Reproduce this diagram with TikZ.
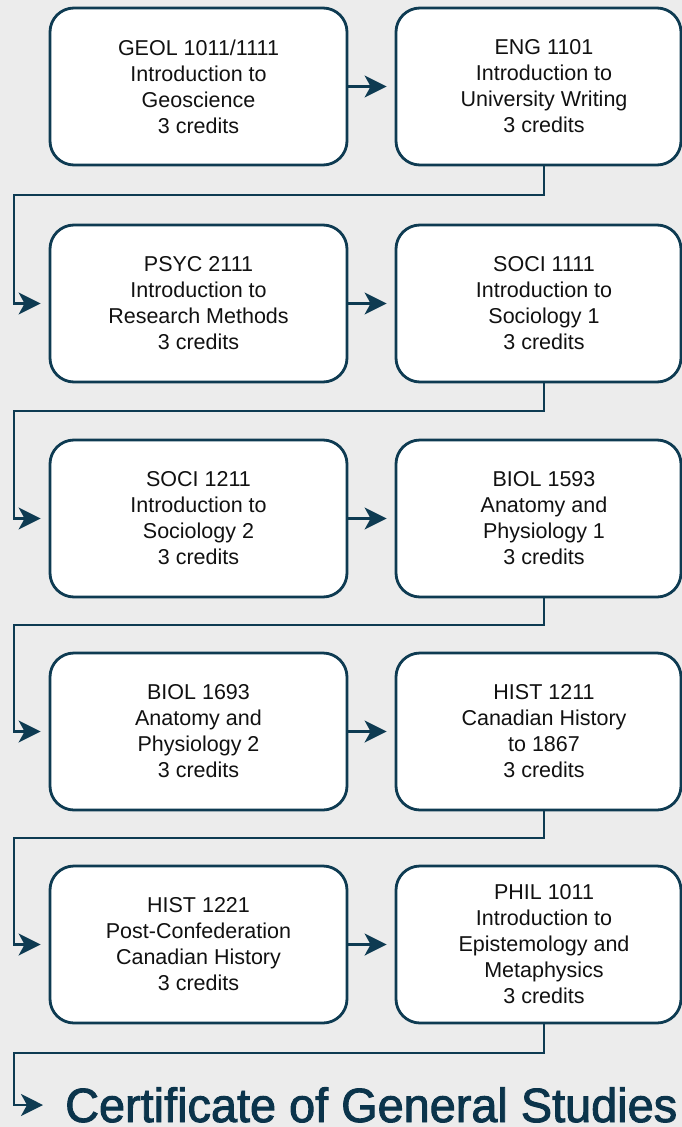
\documentclass[tikz,border=0pt]{standalone}
\usepackage{fontspec}
\setmainfont{Liberation Sans}
\newfontfamily\titlefont[FakeBold=2]{Liberation Sans}
\usetikzlibrary{arrows.meta}
\definecolor{navy}{HTML}{0E3B52}
\definecolor{titlecol}{HTML}{0B344B}
\definecolor{bg}{HTML}{ECECEC}
\definecolor{ink}{HTML}{111111}
\begin{document}
\begin{tikzpicture}[x=1pt,y=-1pt,
  course/.style={draw=navy, line width=2.8pt, fill=white, rounded corners=24pt,
    minimum height=157pt, inner sep=0pt},
  leftbox/.style={course, minimum width=297pt, align=center, text=ink,
    font=\fontsize{21.5}{26}\selectfont},
  rightbox/.style={course, minimum width=285pt},
  txt/.style={align=center, text=ink, inner sep=0pt, font=\fontsize{21.5}{26}\selectfont},
  link/.style={draw=navy, line width=2.2pt,
    -{Stealth[length=22pt,width=22pt,inset=6pt]}, shorten >=8pt},
]
\fill[bg] (0,0) rectangle (682,1127);
\useasboundingbox (0,0) rectangle (682,1127);

% row 1
\node[leftbox] (L1) at (198.5,86.5) {GEOL 1011/1111\\Introduction to\\Geoscience\\3 credits};
\node[rightbox] (R1) at (538.5,86.5) {};
\node[txt] (R1t) at (544,86.5) {ENG 1101\\Introduction to\\University Writing\\3 credits};
% row 2
\node[leftbox] (L2) at (198.5,303.5) {PSYC 2111\\Introduction to\\Research Methods\\3 credits};
\node[rightbox] (R2) at (538.5,303.5) {};
\node[txt] (R2t) at (544,303.5) {SOCI 1111\\Introduction to\\Sociology 1\\3 credits};
% row 3
\node[leftbox] (L3) at (198.5,518.5) {SOCI 1211\\Introduction to\\Sociology 2\\3 credits};
\node[rightbox] (R3) at (538.5,518.5) {};
\node[txt] (R3t) at (544,518.5) {BIOL 1593\\Anatomy and\\Physiology 1\\3 credits};
% row 4
\node[leftbox] (L4) at (198.5,731.5) {BIOL 1693\\Anatomy and\\Physiology 2\\3 credits};
\node[rightbox] (R4) at (538.5,731.5) {};
\node[txt] (R4t) at (544,731.5) {HIST 1211\\Canadian History\\to 1867\\3 credits};
% row 5
\node[leftbox] (L5) at (198.5,944.5) {HIST 1221\\Post-Confederation\\Canadian History\\3 credits};
\node[rightbox] (R5) at (538.5,944.5) {};
\node[txt] (R5t) at (544,944.5) {PHIL 1011\\Introduction to\\Epistemology and\\Metaphysics\\3 credits};

% title
\node[anchor=base west, inner sep=0pt, text=titlecol] (title) at (65,1122)
  {\resizebox{612pt}{\height}{\titlefont\fontsize{48}{48}\selectfont Certificate of General Studies}};
\coordinate (tgt) at (65,1105);

% horizontal arrows
\draw[link] (L1.east) -- (R1.west);
\draw[link] (L2.east) -- (R2.west);
\draw[link] (L3.east) -- (R3.west);
\draw[link] (L4.east) -- (R4.west);
\draw[link] (L5.east) -- (R5.west);

% row-to-row connectors
\draw[link] (R1t |- R1.south) -- (544,195) -- (14,195) |- (L2.west);
\draw[link] (R2t |- R2.south) -- (544,411) -- (14,411) |- (L3.west);
\draw[link] (R3t |- R3.south) -- (544,625) -- (14,625) |- (L4.west);
\draw[link] (R4t |- R4.south) -- (544,838) -- (14,838) |- (L5.west);
\draw[link, shorten >=22pt] (R5t |- R5.south) -- (544,1053) -- (14,1053) |- (tgt);
\end{tikzpicture}
\end{document}
